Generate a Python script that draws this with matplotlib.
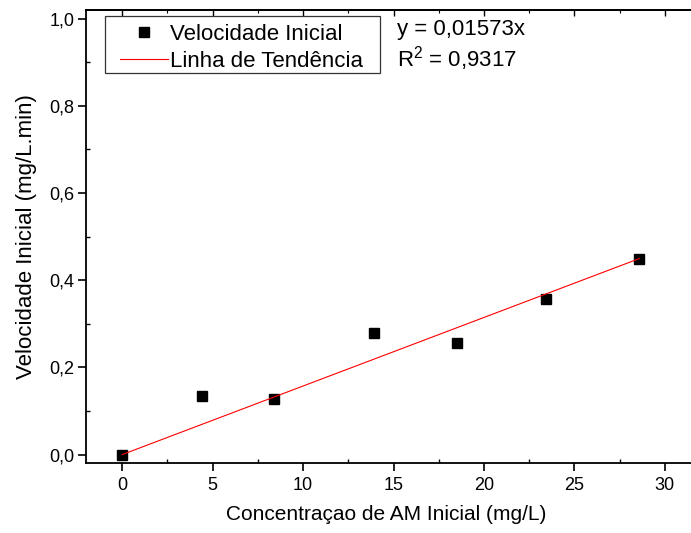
import matplotlib
matplotlib.use("Agg")
import matplotlib.pyplot as plt
from matplotlib.ticker import MultipleLocator, FuncFormatter
from matplotlib.patches import Rectangle
from matplotlib.legend_handler import HandlerLine2D

plt.rcParams['font.family'] = ['Liberation Sans', 'DejaVu Sans']
plt.rcParams['mathtext.fontset'] = 'custom'
plt.rcParams['mathtext.rm'] = 'Liberation Sans'
plt.rcParams['mathtext.it'] = 'Liberation Sans:italic'

# Data
concentracao = [0, 4.4, 8.4, 13.9, 18.5, 23.45, 28.58]
velocidade = [0.0, 0.134, 0.128, 0.280, 0.255, 0.357, 0.449]
slope = 0.01573
r2_text = "0,9317"
x_ticks = [0, 5, 10, 15, 20, 25, 30]
y_ticks = [0.0, 0.2, 0.4, 0.6, 0.8, 1.0]

W, H = 691, 533
AX_L, AX_R, AX_T, AX_B = 86, 701, 10, 463.3

fig = plt.figure(figsize=(W/100, H/100), dpi=100)
ax = fig.add_axes([AX_L/W, (H-AX_B)/H, (AX_R-AX_L)/W, (AX_B-AX_T)/H])

def ax_x(px):
    return (px - AX_L) / (AX_R - AX_L)

def ax_y(py):
    return (AX_B - py) / (AX_B - AX_T)

ax.plot(concentracao, velocidade, linestyle='none', marker='s', markersize=7.2,
        color='black', label='Velocidade Inicial', zorder=3)
x_fit = [0, max(concentracao)]
y_fit = [slope * v for v in x_fit]
ax.plot(x_fit, y_fit, color='red', linewidth=0.8, label='Linha de Tendência', zorder=4)

ax.set_xlim(-2, 32)
ax.set_ylim(-0.02, 1.02)
ax.set_xticks(x_ticks)
ax.set_yticks(y_ticks)
ax.xaxis.set_minor_locator(MultipleLocator(2.5))
ax.yaxis.set_minor_locator(MultipleLocator(0.1))
ax.yaxis.set_major_formatter(FuncFormatter(lambda v, p: f"{v:.1f}".replace('.', ',')))
ax.xaxis.set_major_formatter(FuncFormatter(lambda v, p: f"{v:g}"))

for s in ax.spines.values():
    s.set_linewidth(1.3)
ax.spines['right'].set_visible(False)

ax.tick_params(axis='both', which='major', direction='out', length=6, width=1.2,
               labelsize=13, top=False, right=False)
ax.tick_params(axis='x', which='major', pad=4)
ax.tick_params(axis='y', which='major', pad=2.5)
ax.tick_params(axis='both', which='minor', direction='in', length=3, width=1.0,
               top=False, right=False)

sec = ax.secondary_xaxis('top')
sec.set_xticks(x_ticks)
sec.xaxis.set_minor_locator(MultipleLocator(2.5))
sec.tick_params(which='major', direction='in', length=4, width=1.0, labeltop=False)
sec.tick_params(which='minor', direction='in', length=2.5, width=0.8)
sec.spines['top'].set_linewidth(1.3)

ax.set_xlabel('Concentraçao de AM Inicial (mg/L)', fontsize=15)
ax.xaxis.set_label_coords(ax_x(386), ax_y(505))
ax.set_ylabel('Velocidade Inicial (mg/L.min)', fontsize=16)
ax.yaxis.set_label_coords(ax_x(37), 0.5)

fs = 16
leg = ax.legend(loc='upper left', bbox_to_anchor=(ax_x(105), ax_y(19)),
                fontsize=fs, frameon=False,
                borderpad=0.22, labelspacing=0.27, handlelength=2.62, handletextpad=0.1,
                borderaxespad=0.0,
                handler_map={plt.Line2D: HandlerLine2D(xpad=0.45)})
ax.add_patch(Rectangle((ax_x(105), ax_y(73)), ax_x(380) - ax_x(105), ax_y(16) - ax_y(73),
                       transform=ax.transAxes, fill=False, edgecolor='#333333',
                       linewidth=0.9, zorder=5))

ax.text(ax_x(397), ax_y(30), 'y = 0,01573x', transform=ax.transAxes,
        fontsize=fs, va='center', ha='left')
ax.text(ax_x(397), ax_y(59), 'R$^2$ = ' + r2_text, transform=ax.transAxes,
        fontsize=fs, va='center', ha='left')

fig.savefig('out.png', dpi=100)
